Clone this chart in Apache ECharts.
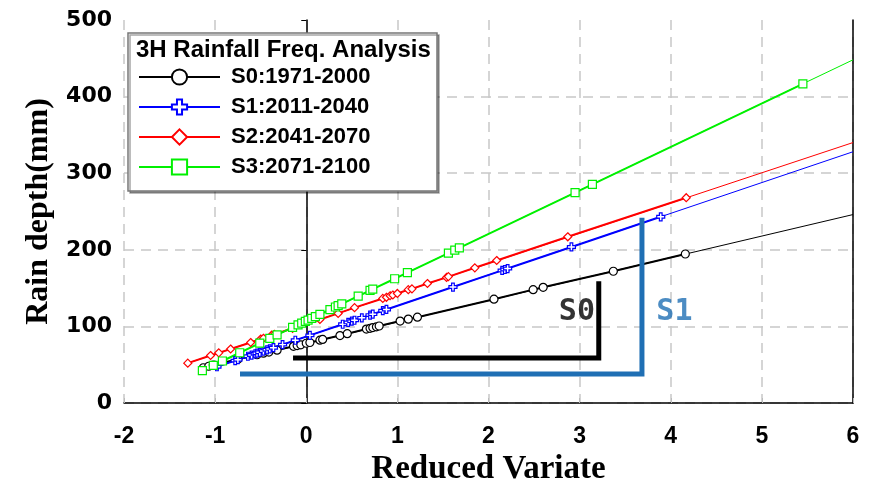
<!DOCTYPE html>
<html>
<head>
<meta charset="utf-8">
<script src="https://cdn.jsdelivr.net/npm/echarts@6/dist/echarts.min.js"></script>
<style>
html, body { margin: 0; padding: 0; background: #fff; }
#main { width: 873px; height: 491px; }
</style>
</head>
<body>
<div id="main"></div>
<script>
// series names (legend)
var seriesNames = ['S0:1971-2000', 'S1:2011-2040', 'S2:2041-2070', 'S3:2071-2100'];

// S0 reduced variate / rain depth
var s0X = [-1.13, -1.07, -1.02, -0.75, -0.54, -0.47, -0.41, -0.32, -0.14, -0.10, -0.06, 0.0, 0.04, 0.15, 0.18,
           0.37, 0.45, 0.66, 0.70, 0.73, 0.77, 0.80, 1.03, 1.12, 1.22, 2.06, 2.49, 2.60, 3.37, 4.16];
var s0Y = [46, 48, 49.5, 57, 63, 65, 66.5, 69, 74, 75, 76, 78, 79, 82, 83,
           88, 90.5, 96.5, 97.5, 98.5, 99.5, 100.5, 107, 109.5, 112, 135.5, 148, 151, 172, 194.5];

// S1
var s1X = [-0.98, -0.78, -0.75, -0.64, -0.60, -0.56, -0.54, -0.51, -0.47, -0.43, -0.40, -0.36, -0.26, -0.12, 0.04,
           0.40, 0.46, 0.50, 0.53, 0.61, 0.70, 0.73, 0.84, 0.88, 1.61, 2.15, 2.18, 2.21, 2.91, 3.89];
var s1Y = [47.3, 55.3, 56.5, 61, 62.6, 64.2, 65, 66.2, 67.8, 69.4, 70.6, 72.2, 76.2, 81.9, 88.3,
           102.8, 105.2, 106.8, 108, 111.2, 114.8, 116, 120.5, 122.1, 151.4, 173.1, 174.3, 175.5, 203.7, 243.1];

// S2
var s2X = [-1.30, -1.05, -0.96, -0.83, -0.61, -0.50, -0.47, -0.38, -0.35, -0.15, 0.15, 0.35, 0.53, 0.84,
           0.88, 0.92, 0.95, 1.00, 1.12, 1.16, 1.33, 1.54, 1.56, 1.85, 2.09, 2.87, 4.17];
var s2Y = [52, 62, 65.5, 70.5, 79, 83.5, 84.5, 88.5, 89.5, 97.5, 109, 117, 124.5, 136.5,
           138, 140, 141, 143, 148, 149, 156, 164, 165, 176.5, 186, 217, 268];

// S3
var s3X = [-1.14, -1.02, -0.92, -0.73, -0.51, -0.40, -0.32, -0.15, -0.09, -0.05, -0.01, 0.02, 0.06, 0.10, 0.15,
           0.26, 0.32, 0.35, 0.39, 0.57, 0.70, 0.73, 0.97, 1.11, 1.56, 1.63, 1.68, 2.95, 3.14, 5.45];
var s3Y = [42.3, 49.2, 54.8, 65.6, 78.1, 84.4, 88.9, 98.6, 102, 104.3, 106.5, 108.2, 110.5, 112.8, 115.6,
           121.9, 125.3, 127, 129.3, 139.5, 146.9, 148.6, 162.2, 170.1, 195.7, 199.7, 202.5, 274.7, 285.5, 416.7];

// fitted lines extended to the right edge (x = 6)
var fitEndY = [246, 328, 340, 448];

// annotation brackets and labels
var bracketS0 = [[-0.145, 58.6], [3.21, 58.6], [3.21, 159]];
var bracketS1 = [[-0.727, 37.8], [3.684, 37.8], [3.684, 242]];
var noteLabels = [['S0', 2.97, 118.5], ['S1', 4.04, 118.5]];

var colors = ['#000000', '#0000ff', '#ff0000', '#00f000'];
var symbols = ['circle', 'path://M4,0H8V4H12V8H8V12H4V8H0V4H4Z', 'diamond', 'rect'];
var markSize = [8, 8, 8, 8];

function pairs(xs, ys) {
    var out = [];
    for (var i = 0; i < xs.length; i++) {
        out.push([xs[i], ys[i]]);
    }
    return out;
}

var allX = [s0X, s1X, s2X, s3X];
var allY = [s0Y, s1Y, s2Y, s3Y];

var series = [];
for (var k = 0; k < 4; k++) {
    // thin fitted line
    series.push({
        type: 'line',
        data: [[allX[k][0], allY[k][0]], [6, fitEndY[k]]],
        symbol: 'none',
        silent: true,
        z: 2,
        lineStyle: { color: colors[k], width: 1 }
    });
}
for (var k = 0; k < 4; k++) {
    series.push({
        name: seriesNames[k],
        type: 'line',
        data: pairs(allX[k], allY[k]),
        symbol: symbols[k],
        symbolSize: markSize[k],
        z: 3,
        lineStyle: { color: colors[k], width: 2 },
        itemStyle: { color: '#ffffff', borderColor: colors[k], borderWidth: 1.2, opacity: 1 },
        emphasis: { disabled: true }
    });
}
series.push({
    type: 'line', data: bracketS0, symbol: 'none', silent: true, z: 4,
    lineStyle: { color: '#000000', width: 5, cap: 'butt', join: 'miter' }
});
series.push({
    type: 'line', data: bracketS1, symbol: 'none', silent: true, z: 4,
    lineStyle: { color: '#1f6fb4', width: 5, cap: 'butt', join: 'miter' }
});
series.push({
    type: 'scatter',
    silent: true,
    symbolSize: 0,
    z: 5,
    data: noteLabels.map(function (d, i) {
        return {
            value: [d[1], d[2]],
            label: {
                show: true,
                position: 'inside',
                formatter: d[0],
                color: i === 0 ? '#000000' : '#1f6fb4',
                fontFamily: 'DejaVu Sans Mono',
                fontWeight: 'bold',
                fontSize: 30
            }
        };
    })
});

var myChart = echarts.init(document.getElementById('main'));
var option = {
    animation: false,
    backgroundColor: '#ffffff',
    grid: { left: 124, right: 20, top: 20, bottom: 87, containLabel: false },
    xAxis: {
        type: 'value',
        min: -2,
        max: 6,
        interval: 1,
        name: 'Reduced Variate',
        nameLocation: 'middle',
        nameGap: 50,
        nameTextStyle: { fontFamily: 'Liberation Serif', fontWeight: 'bold', fontSize: 33, color: '#000' },
        axisLine: { onZero: false, lineStyle: { color: '#000', width: 1.5 } },
        axisTick: { show: true, inside: true, length: 5, lineStyle: { color: '#bbb' } },
        axisLabel: { margin: 22, fontFamily: 'Liberation Sans', fontWeight: 'bold', fontSize: 23, color: '#000' },
        splitLine: { show: true, lineStyle: { color: '#c8c8c8', width: 1.5, type: [10, 7] } }
    },
    yAxis: [{
        type: 'value',
        min: 0,
        max: 500,
        interval: 100,
        name: 'Rain depth(mm)',
        nameLocation: 'middle',
        nameGap: 60,
        nameTextStyle: { fontFamily: 'Liberation Serif', fontWeight: 'bold', fontSize: 32, color: '#000' },
        axisLine: { show: true, lineStyle: { color: '#000', width: 1.5 } },
        axisTick: { show: true, inside: false, length: 5, lineStyle: { color: '#000' } },
        axisLabel: { margin: 12, fontFamily: 'DejaVu Sans', fontWeight: 'bold', fontSize: 22, color: '#000' },
        splitLine: { show: true, showMaxLine: false, lineStyle: { color: '#c8c8c8', width: 1.5, type: [10, 7] } }
    }, {
        type: 'value',
        position: 'right',
        min: 0,
        max: 500,
        interval: 100,
        axisLine: { show: true, lineStyle: { color: '#000', width: 1.5 } },
        axisTick: { show: false },
        axisLabel: { show: false },
        splitLine: { show: false }
    }],
    legend: {
        data: seriesNames,
        orient: 'vertical',
        left: 133,
        top: 61,
        z: 6,
        itemWidth: 81,
        itemHeight: 19,
        itemGap: 8,
        selectedMode: false,
        textStyle: { fontFamily: 'Liberation Sans', fontWeight: 'bold', fontSize: 22, color: '#000', padding: [0, 0, 0, 6] }
    },
    graphic: [{
        type: 'rect',
        z: 5,
        shape: { x: 128, y: 33, width: 309, height: 158 },
        style: { fill: '#ffffff', stroke: '#777777', lineWidth: 1.5,
                 shadowColor: 'rgba(0,0,0,0.35)', shadowOffsetX: 2, shadowOffsetY: 2, shadowBlur: 0 }
    }, {
        type: 'text',
        z: 6,
        x: 136,
        y: 50,
        style: { text: '3H Rainfall Freq. Analysis', fill: '#000', font: 'bold 24px "Liberation Sans"',
                 verticalAlign: 'middle' }
    }],
    series: series
};
myChart.setOption(option);
</script>
</body>
</html>
